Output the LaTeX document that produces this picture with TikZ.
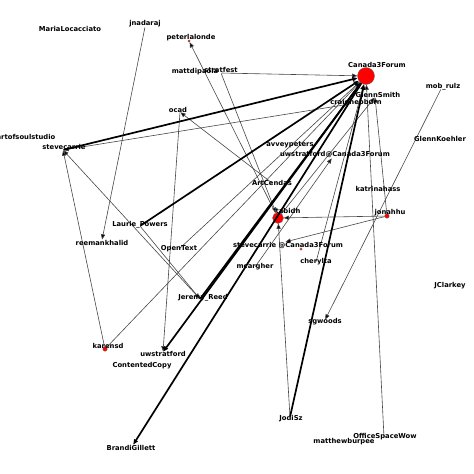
\documentclass[tikz,border=0pt]{standalone}
\usepackage{fontspec}
\setmainfont{DejaVu Sans}
\usetikzlibrary{arrows.meta}
\begin{document}
\begin{tikzpicture}[x=1pt,y=-1pt,
 lbl/.style={font=\bfseries\fontsize{6.8}{8}\selectfont, inner sep=0pt, anchor=center},
 pt/.style={circle, inner sep=0pt, minimum size=0.6pt},
 rn/.style={circle, inner sep=0pt, fill=red, draw=black!60, line width=0.3pt},
 tip/.style={-{Triangle[length=5.2pt,width=4.2pt,fill=black]}},
 e/.style={draw=black!72, line width=0.6pt, tip},
 E/.style={draw=black, line width=1.7pt, tip},
]
\useasboundingbox (0,0) rectangle (474,474);
% node markers
\node[rn, minimum size=17pt] (c3f) at (366,76) {};
\node[rn, minimum size=11pt] (tab) at (278,218) {};
\node[rn, minimum size=4.5pt] (jon) at (387,216) {};
\node[rn, minimum size=4.5pt] (kar) at (105,349) {};
\node[rn, minimum size=2.5pt] (pet) at (189,41) {};
\node[rn, minimum size=2.5pt] (rog) at (301,249) {};
\node[pt] (mar) at (70,30) {};
\node[pt] (jna) at (145,27) {};
\node[pt] (mat) at (195,73) {};
\node[pt] (str) at (221,73) {};
\node[pt] (mob) at (441,89) {};
\node[pt] (gsm) at (375,97) {};
\node[pt] (cra) at (350,104) {};
\node[pt] (art) at (27,138) {};
\node[pt] (ste) at (63,150) {};
\node[pt] (gko) at (440,140) {};
\node[pt] (avv) at (290,146) {};
\node[pt] (uwc) at (332,158) {};
\node[pt] (oca) at (180,112) {};
\node[pt] (acn) at (272,183) {};
\node[pt] (kat) at (378,189) {};
\node[pt] (lau) at (140,226) {};
\node[pt] (ree) at (102,240) {};
\node[pt] (opt) at (179,249) {};
\node[pt] (scc) at (285,242) {};
\node[pt] (che) at (316,262) {};
\node[pt] (mca) at (255,267) {};
\node[pt] (jcl) at (450,287) {};
\node[pt] (jer) at (200,299) {};
\node[pt] (sgw) at (325,320) {};
\node[pt] (uws) at (163,352) {};
\node[pt] (con) at (142,366) {};
\node[pt] (bra) at (133,445) {};
\node[pt] (jod) at (290,417) {};
\node[pt] (mbu) at (344,442) {};
\node[pt] (off) at (384,437) {};
% thin edges
\draw[e] (str) -- (c3f);
\draw[e] (cra) -- (ste);
\draw[e] (kar) -- (ste);
\draw[e] (kar) -- (c3f);
\draw[e] (jna) -- (ree);
\draw[e] (oca) -- (uws);
\draw[e] (acn) -- (oca);
\draw[e] (tab) -- (pet);
\draw[e] (str) -- (tab);
\draw[e] (lau) -- (jer);
\draw[e] (jer) -- (ste);
\draw[e] (mob) -- (sgw);
\draw[e] (off) -- (c3f);
\draw[e] (jod) -- (tab);
\draw[e] (jon) -- (tab);
\draw[e] (jon) -- (scc);
\draw[e] (jon) -- (gsm);
\draw[e] (che) -- (c3f);
\draw[e] (tab) -- (gsm);
\draw[e] (mca) -- (uwc);
\draw[e] (opt) -- (c3f);
% thick edges
\draw[E] (ste) -- (c3f);
\draw[E] (lau) -- (c3f);
\draw[E] (c3f) -- (bra);
\draw[E] (c3f) -- (uws);
\draw[E] (jod) -- (c3f);
\draw[E] (jer) -- (c3f);
% labels
\node[lbl] (l-mar) at (70,29) {MariaLocacciato};
\node[lbl] (l-jna) at (145,24) {jnadaraj};
\node[lbl] (l-pet) at (191,38) {peterlalonde};
\node[lbl] (l-mat) at (195,72) {mattdipaola};
\node[lbl] (l-str) at (221,70) {stratfest};
\node[lbl] (l-c3f) at (377,65) {Canada3Forum};
\node[lbl] (l-mob) at (443,87) {mob\_rulz};
\node[lbl] (l-gsm) at (378,95) {GlennSmith};
\node[lbl] (l-cra) at (356,103) {craighepburn};
\node[lbl] (l-art) at (26,137) {artofsoulstudio};
\node[lbl] (l-ste) at (64,147) {stevecarrie};
\node[lbl] (l-gko) at (440,139) {GlennKoehler};
\node[lbl] (l-avv) at (290,145) {avveypeters};
\node[lbl] (l-uwc) at (335,155) {uwstratford@Canada3Forum};
\node[lbl] (l-oca) at (178,110) {ocad};
\node[lbl] (l-acn) at (272,183) {ArtCendas};
\node[lbl] (l-kat) at (378,189) {katrinahass};
\node[lbl] (l-tab) at (288,211) {tabidh};
\node[lbl] (l-jon) at (390,213) {jonahhu};
\node[lbl] (l-lau) at (140,225) {Laurie\_Powers};
\node[lbl] (l-ree) at (102,243) {reemankhalid};
\node[lbl] (l-opt) at (179,249) {OpenText};
\node[lbl] (l-scc) at (288,246) {stevecarrie @Canada3Forum};
\node[lbl] (l-che) at (316,262) {cherylta};
\node[lbl] (l-mca) at (255,267) {mcargher};
\node[lbl] (l-jcl) at (450,286) {JClarkey};
\node[lbl] (l-jer) at (203,298) {Jeremy\_Reed};
\node[lbl] (l-sgw) at (325,322) {sgwoods};
\node[lbl] (l-kar) at (108,346) {karensd};
\node[lbl] (l-uws) at (163,354) {uwstratford};
\node[lbl] (l-con) at (142,366) {ContentedCopy};
\node[lbl] (l-bra) at (131,448) {BrandiGillett};
\node[lbl] (l-jod) at (291,419) {JodiSz};
\node[lbl] (l-mbu) at (344,442) {matthewburpee};
\node[lbl] (l-off) at (385,437) {OfficeSpaceWow};
\end{tikzpicture}
\end{document}
